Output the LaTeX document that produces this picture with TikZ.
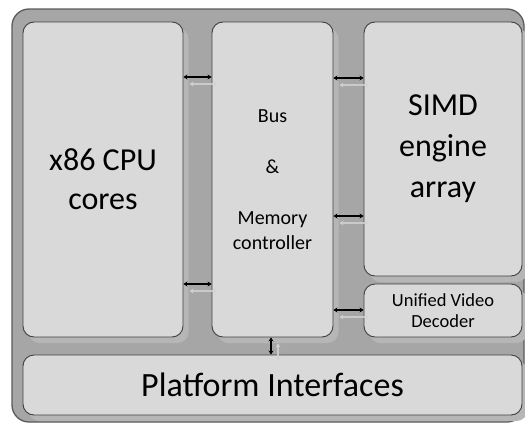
\documentclass[tikz,border=0pt]{standalone}
\usepackage{fontspec}
\setmainfont{Carlito}
\usetikzlibrary{shadows,arrows.meta}

\definecolor{chassis}{HTML}{A6A6A6}
\definecolor{chassisline}{HTML}{5A5A5A}
\definecolor{blockfill}{HTML}{D9D9D9}
\definecolor{blockline}{HTML}{404040}
\definecolor{shadowgray}{HTML}{B6B6B6}
\definecolor{ghostgray}{HTML}{D4D4D4}

\newcommand{\fs}[2]{\fontsize{#1}{#2}\selectfont}

\tikzset{
  block/.style={draw=blockline, line width=0.9pt, fill=blockfill,
    rounded corners=11pt, inner sep=0pt, align=center,
    drop shadow={shadow xshift=5.5pt, shadow yshift=-6pt,
      fill=shadowgray, opacity=1}},
  link/.style={draw=black, line width=1.6pt,
    {Stealth[length=4pt,width=5pt]}-{Stealth[length=4pt,width=5pt]}},
  ghost/.style={draw=ghostgray, line width=1.6pt, opacity=0.8,
    {Stealth[length=4pt,width=5pt]}-{Stealth[length=4pt,width=5pt]}}
}

\begin{document}
\begin{tikzpicture}[x=1pt, y=-1pt]
  \useasboundingbox (0,0) rectangle (525,423);

  % outer chassis
  \draw[fill=chassis, draw=chassisline, line width=1.3pt, rounded corners=17pt]
    (12,9) rectangle (524,422);

  % functional blocks
  \node[block, minimum width=160pt, minimum height=315pt,
        font=\fs{32}{39}] (cpu) at (103,179.5) {x86 CPU\\cores};
  \node[block, minimum width=121pt, minimum height=315pt,
        font=\fs{20}{25.5}] (bus) at (272.5,179.5)
        {Bus\\[25.5pt]\&\\[25.5pt]Memory\\controller};
  \node[block, minimum width=158pt, minimum height=254pt,
        font=\fs{32}{41}] (simd) at (443,149) {SIMD\\engine\\array};
  \node[block, minimum width=158pt, minimum height=53pt,
        font=\fs{18.5}{20.5}] (uvd) at (443,310.5) {Unified Video\\Decoder};
  \node[block, minimum width=499pt, minimum height=60pt,
        font=\fs{34}{40}] (plat) at (272.5,385) {Platform Interfaces};

  % faint echoes of the links
  \draw[ghost] ([xshift=6pt]cpu.east |- 0,84) -- ([xshift=6pt]bus.west |- 0,84);
  \draw[ghost] ([xshift=6pt]cpu.east |- 0,291) -- ([xshift=6pt]bus.west |- 0,291);
  \draw[ghost] ([xshift=6pt]bus.east |- 0,85) -- ([xshift=6pt]simd.west |- 0,85);
  \draw[ghost] ([xshift=6pt]bus.east |- 0,223) -- ([xshift=6pt]simd.west |- 0,223);
  \draw[ghost] ([xshift=6pt]bus.east |- 0,317) -- ([xshift=6pt]uvd.west |- 0,317);
  \draw[ghost] ([yshift=-6pt]bus.south -| 278,0) -- ([yshift=-6pt]plat.north -| 278,0);

  % links between blocks
  \draw[link] (cpu.east |- 0,77) -- (bus.west |- 0,77);
  \draw[link] (cpu.east |- 0,284) -- (bus.west |- 0,284);
  \draw[link] (bus.east |- 0,78) -- (simd.west |- 0,78);
  \draw[link] (bus.east |- 0,216) -- (simd.west |- 0,216);
  \draw[link] (bus.east |- 0,310) -- (uvd.west |- 0,310);
  \draw[link] (bus.south -| 271,0) -- (plat.north -| 271,0);
\end{tikzpicture}
\end{document}
